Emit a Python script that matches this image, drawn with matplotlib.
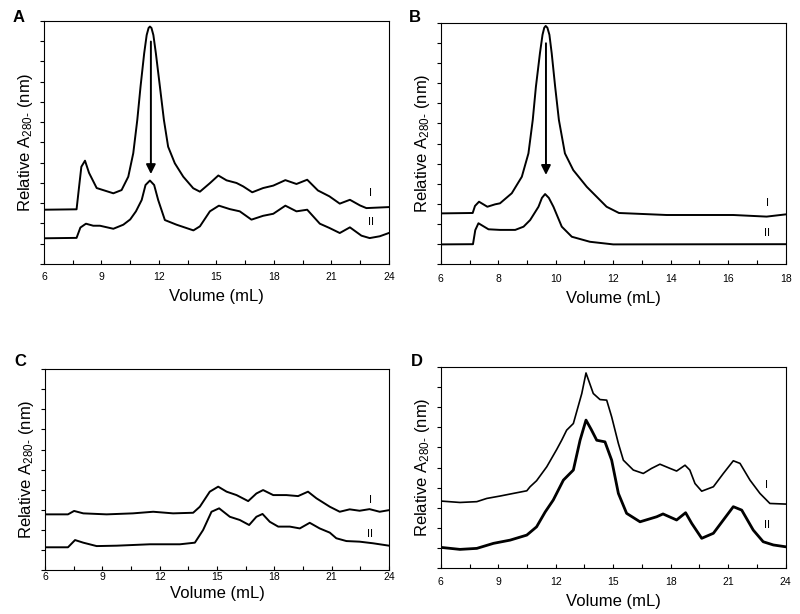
"""
Gel filtration profiles (A280) for four samples, curves I and II per panel.
Values read off the reference figure by eye.
"""
import matplotlib
matplotlib.use("Agg")
import matplotlib.pyplot as plt
from matplotlib.ticker import MultipleLocator

plt.rcParams['font.family'] = ['Liberation Sans', 'DejaVu Sans']
plt.rcParams['mathtext.fontset'] = 'custom'
plt.rcParams['mathtext.rm'] = 'Liberation Sans'
plt.rcParams['mathtext.it'] = 'Liberation Sans:italic'
plt.rcParams['mathtext.default'] = 'regular'

# ---- panel A (6-24 mL) ----
a_x1 = [6.0, 7.7, 7.83, 7.95, 8.14, 8.35, 8.75, 9.62, 10.05, 10.4, 10.66, 10.87, 11.04, 11.23, 11.36,
        11.46, 11.53, 11.61, 11.71, 11.84, 12.05, 12.26, 12.48, 12.83, 13.27, 13.79, 14.14, 14.66, 15.1,
        15.53, 16.05, 16.4, 16.87, 17.44, 17.97, 18.6, 19.18, 19.74, 20.3, 20.9, 21.44, 21.97, 22.5,
        22.83, 24.0]
a_y1 = [2.68, 2.7, 3.8, 4.8, 5.1, 4.5, 3.75, 3.49, 3.65, 4.31, 5.47, 7.11, 8.76, 10.4, 11.3,
        11.65, 11.72, 11.65, 11.3, 10.4, 8.76, 7.11, 5.79, 4.97, 4.31, 3.74, 3.57, 3.99, 4.37,
        4.13, 4.0, 3.83, 3.54, 3.75, 3.87, 4.14, 3.95, 4.16, 3.63, 3.34, 2.98, 3.17, 2.89,
        2.76, 2.81]
a_x2 = [6.0, 7.7, 7.9, 8.19, 8.57, 8.92, 9.62, 10.14, 10.5, 10.8, 11.1, 11.3, 11.53, 11.75, 11.96,
        12.31, 12.92, 13.8, 14.14, 14.66, 15.13, 15.7, 16.22, 16.83, 17.44, 17.97, 18.6, 19.18, 19.74,
        20.4, 20.9, 21.44, 21.97, 22.57, 23.0, 23.53, 24.0]
a_y2 = [1.27, 1.29, 1.8, 1.99, 1.89, 1.89, 1.74, 1.94, 2.2, 2.6, 3.16, 3.9, 4.12, 3.9, 3.16,
        2.17, 1.94, 1.66, 1.86, 2.6, 2.88, 2.71, 2.6, 2.19, 2.38, 2.48, 2.88, 2.6, 2.68,
        1.99, 1.78, 1.53, 1.81, 1.4, 1.28, 1.37, 1.53]

# ---- panel B (6-18 mL) ----
b_x1 = [6.0, 7.11, 7.19, 7.33, 7.62, 7.89, 8.06, 8.47, 8.82, 9.05, 9.2, 9.31, 9.45, 9.54, 9.6,
        9.65, 9.71, 9.78, 9.86, 9.98, 10.11, 10.32, 10.61, 11.08, 11.77, 12.2, 13.86, 16.18, 17.34,
        18.0]
b_y1 = [2.53, 2.55, 2.9, 3.11, 2.86, 2.98, 3.03, 3.53, 4.35, 5.51, 7.17, 8.82, 10.48, 11.4, 11.75,
        11.84, 11.75, 11.4, 10.48, 8.82, 7.17, 5.51, 4.68, 3.85, 2.86, 2.55, 2.45, 2.45, 2.37,
        2.48]
b_x2 = [6.0, 7.12, 7.2, 7.31, 7.66, 8.06, 8.59, 8.88, 9.11, 9.4, 9.52, 9.63, 9.76, 9.92, 10.21,
        10.56, 11.19, 12.0, 18.0]
b_y2 = [0.99, 1.0, 1.7, 2.04, 1.74, 1.71, 1.71, 1.87, 2.2, 2.86, 3.3, 3.49, 3.3, 2.86, 1.87,
        1.37, 1.12, 0.99, 1.0]

# ---- panel C (6-24 mL) ----
c_x1 = [6.0, 7.2, 7.52, 8.0, 9.22, 10.6, 11.66, 12.7, 13.75, 14.1, 14.62, 15.06, 15.5, 16.02, 16.63,
        17.06, 17.41, 17.94, 18.63, 19.24, 19.76, 20.2, 20.9, 21.42, 21.94, 22.46, 22.98, 23.51, 24.0]
c_y1 = [2.77, 2.77, 2.94, 2.82, 2.77, 2.82, 2.9, 2.82, 2.85, 3.15, 3.9, 4.15, 3.9, 3.73, 3.43,
        3.81, 3.98, 3.73, 3.73, 3.68, 3.9, 3.57, 3.15, 2.9, 3.02, 2.95, 3.03, 2.9, 2.98]
c_x2 = [6.0, 7.2, 7.57, 8.0, 8.7, 9.75, 11.49, 13.06, 13.84, 14.27, 14.71, 15.11, 15.67, 16.19, 16.68,
        17.06, 17.38, 17.76, 18.2, 18.81, 19.33, 19.85, 20.37, 20.9, 21.24, 21.77, 22.46, 23.16, 24.0]
c_y2 = [1.13, 1.13, 1.49, 1.36, 1.19, 1.21, 1.28, 1.28, 1.36, 1.99, 2.9, 3.07, 2.65, 2.49, 2.24,
        2.65, 2.79, 2.4, 2.16, 2.16, 2.07, 2.35, 2.07, 1.86, 1.58, 1.44, 1.41, 1.33, 1.21]

# ---- panel D (6-24 mL) ----
d_x1 = [6.0, 7.0, 7.88, 8.4, 9.1, 9.79, 10.49, 10.66, 11.0, 11.53, 12.05, 12.31, 12.57, 12.92, 13.36,
        13.58, 13.96, 14.31, 14.66, 14.92, 15.27, 15.53, 16.05, 16.57, 17.0, 17.44, 17.97, 18.31, 18.75,
        19.0, 19.27, 19.62, 20.23, 20.75, 21.27, 21.62, 22.14, 22.66, 23.18, 24.0]
d_y1 = [3.34, 3.27, 3.31, 3.47, 3.59, 3.72, 3.85, 4.05, 4.35, 5.04, 5.9, 6.36, 6.86, 7.19, 8.68,
        9.7, 8.68, 8.38, 8.35, 7.52, 6.2, 5.37, 4.88, 4.71, 4.96, 5.17, 4.96, 4.83, 5.12,
        4.88, 4.21, 3.83, 4.05, 4.71, 5.34, 5.21, 4.38, 3.72, 3.22, 3.19]
d_x2 = [6.0, 7.0, 7.88, 8.75, 9.62, 10.49, 11.0, 11.45, 11.87, 12.4, 12.92, 13.27, 13.58, 13.85,
        14.14, 14.57, 14.92, 15.27, 15.7, 16.4, 17.27, 17.6, 18.31, 18.78, 19.1, 19.62, 20.23, 20.75,
        21.27, 21.71, 22.31, 22.83, 23.36, 24.0]
d_y2 = [1.04, 0.94, 0.99, 1.24, 1.4, 1.65, 2.06, 2.8, 3.39, 4.38, 4.88, 6.36, 7.36, 6.9,
        6.36, 6.28, 5.37, 3.72, 2.73, 2.31, 2.56, 2.7, 2.4, 2.76, 2.23, 1.49, 1.74, 2.4,
        3.06, 2.89, 1.9, 1.32, 1.16, 1.07]

# panel settings: letter, letter pixel pos, axes rect, xlim, major/minor x step, ylim,
# curves, label pos, arrow, tick label pad, xlabel pad
panels = [
    ('A', (19, 18), [0.055, 0.570, 0.431, 0.396], (6, 24), 3, 1.5, 12,
     (a_x1, a_y1, 1.4), (a_x2, a_y2, 1.4), (23.07, 3.5), (23.05, 2.06), (11.58, 10.98, 4.44), 6, 5),
    ('B', (415, 18), [0.551, 0.5695, 0.431, 0.3935], (6, 18), 2, 1, 12,
     (b_x1, b_y1, 1.4), (b_x2, b_y2, 1.4), (17.37, 3.03), (17.37, 1.54), (9.66, 10.98, 4.44), 7, 5),
    ('C', (20, 362), [0.0563, 0.0717, 0.430, 0.327], (6, 24), 3, 1.5, 10,
     (c_x1, c_y1, 1.4), (c_x2, c_y2, 1.4), (23.02, 3.48), (22.99, 1.79), None, 1.5, 3),
    ('D', (417, 362), [0.551, 0.0744, 0.431, 0.328], (6, 24), 3, 1.5, 10,
     (d_x1, d_y1, 1.2), (d_x2, d_y2, 2.0), (23.01, 4.13), (23.04, 2.15), None, 6, 5),
]

fig = plt.figure(figsize=(8, 6.14), dpi=100)

for (letter, lpos, rect, xlim, xmaj, xmin, ytop, c1, c2, lab1, lab2, arrow,
     tpad, xpad) in panels:
    ax = fig.add_axes(rect)
    ax.plot(c1[0], c1[1], color='black', lw=c1[2], solid_joinstyle='round')
    ax.plot(c2[0], c2[1], color='black', lw=c2[2], solid_joinstyle='round')
    ax.text(lab1[0], lab1[1], 'I', fontsize=8, ha='center', va='center')
    ax.text(lab2[0], lab2[1], 'II', fontsize=8, ha='center', va='center')
    if arrow is not None:
        ax.annotate('', xy=(arrow[0], arrow[2]), xytext=(arrow[0], arrow[1]),
                    arrowprops=dict(arrowstyle='-|>', color='black', lw=1.4,
                                    mutation_scale=14, shrinkA=0, shrinkB=0))
    ax.set_xlim(*xlim)
    ax.set_ylim(0, ytop)
    ax.xaxis.set_major_locator(MultipleLocator(xmaj))
    ax.xaxis.set_minor_locator(MultipleLocator(xmin))
    ax.yaxis.set_major_locator(MultipleLocator(1))
    ax.set_yticklabels([])
    ax.tick_params(axis='x', which='both', direction='in', length=3, width=0.8,
                   labelsize=7.5, pad=tpad)
    ax.tick_params(axis='y', which='both', direction='out', length=3, width=0.8)
    for s in ax.spines.values():
        s.set_linewidth(0.8)
    ax.set_xlabel('Volume (mL)', fontsize=12, labelpad=xpad)
    ax.set_ylabel('Relative A$_{280\u2010}$ (nm)', fontsize=12, labelpad=0)
    fig.text(lpos[0] / 800, 1 - lpos[1] / 614, letter, fontsize=12,
             fontweight='bold', ha='center', va='center')

fig.savefig('out.png', dpi=100)
